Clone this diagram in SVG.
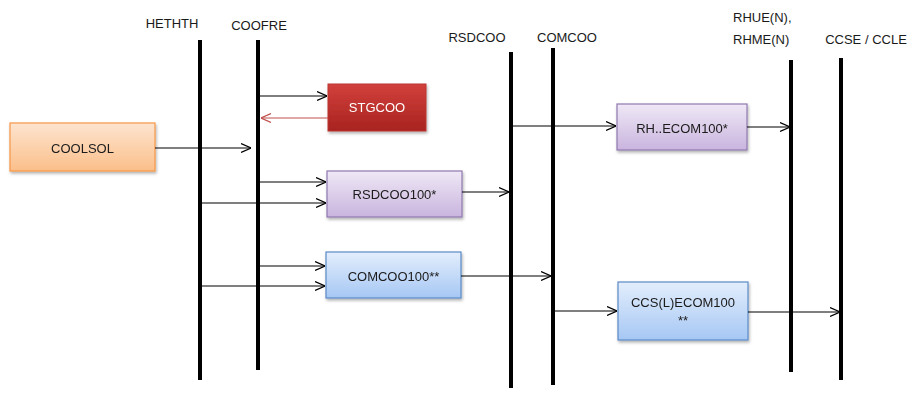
<svg xmlns="http://www.w3.org/2000/svg" width="911" height="394" viewBox="0 0 911 394">
<style>
text{font-family:"Liberation Sans","Open Sans",Arial,sans-serif;font-size:13px;fill:#1a1a1a}
.c{text-anchor:middle;dominant-baseline:central}
.life{stroke:#000;stroke-width:4}
.a{stroke:#000;stroke-width:1.2;fill:none;marker-end:url(#ah)}
.ar{stroke:#c0504d;stroke-width:1.2;fill:none;marker-end:url(#ahr)}
</style>
<defs>
<marker id="ah" viewBox="0 0 10 10" refX="10" refY="5" markerWidth="10" markerHeight="10" markerUnits="userSpaceOnUse" orient="auto"><path d="M0,0.5 L10,5 L0,9.5" fill="none" stroke="#000" stroke-width="1.2"/></marker>
<marker id="ahr" viewBox="0 0 10 10" refX="10" refY="5" markerWidth="10" markerHeight="10" markerUnits="userSpaceOnUse" orient="auto"><path d="M0,0.5 L10,5 L0,9.5" fill="none" stroke="#c0504d" stroke-width="1.2"/></marker>
<linearGradient id="gO" x1="0" y1="0" x2="0" y2="1"><stop offset="0" stop-color="#fde4cf"/><stop offset="1" stop-color="#fbbf8a"/></linearGradient>
<linearGradient id="gR" x1="0" y1="0" x2="0" y2="1"><stop offset="0" stop-color="#d2403c"/><stop offset="1" stop-color="#a8231f"/></linearGradient>
<linearGradient id="gP" x1="0" y1="0" x2="0" y2="1"><stop offset="0" stop-color="#efe8f6"/><stop offset="1" stop-color="#c9b4de"/></linearGradient>
<linearGradient id="gB" x1="0" y1="0" x2="0" y2="1"><stop offset="0" stop-color="#e3eefc"/><stop offset="1" stop-color="#a6c7f4"/></linearGradient>
<filter id="sh" x="-10%" y="-10%" width="130%" height="140%"><feDropShadow dx="1" dy="2" stdDeviation="1.5" flood-color="#000" flood-opacity="0.3"/></filter>
</defs>

<g id="lifelines">
<g id="HETHTH"><text x="172" y="28" text-anchor="middle">HETHTH</text><line class="life" x1="200" y1="40" x2="200" y2="380"/></g>
<g id="COOFRE"><text x="259" y="30" text-anchor="middle">COOFRE</text><line class="life" x1="258" y1="40" x2="258" y2="370"/></g>
<g id="RSDCOO"><text x="477" y="42" text-anchor="middle">RSDCOO</text><line class="life" x1="511" y1="52" x2="511" y2="388"/></g>
<g id="COMCOO"><text x="567" y="42" text-anchor="middle">COMCOO</text><line class="life" x1="553" y1="48" x2="553" y2="385"/></g>
<g id="RHUE"><text x="733" y="22">RHUE(N),</text><text x="733" y="44">RHME(N)</text><line class="life" x1="791" y1="60" x2="791" y2="372"/></g>
<g id="CCSE"><text x="866" y="44" text-anchor="middle">CCSE / CCLE</text><line class="life" x1="841" y1="58" x2="841" y2="380"/></g>
</g>

<g id="COOLSOL" filter="url(#sh)"><rect x="10" y="123" width="145" height="48" fill="url(#gO)" stroke="#f79646" stroke-width="1.2"/><text class="c" x="82.5" y="148">COOLSOL</text></g>
<g id="STGCOO" filter="url(#sh)"><rect x="328" y="84" width="98" height="47" fill="url(#gR)" stroke="#b93632" stroke-width="1"/><text class="c" x="377" y="107" style="fill:#fff">STGCOO</text></g>
<g id="RSDCOO100" filter="url(#sh)"><rect x="327" y="171" width="135" height="46" fill="url(#gP)" stroke="#8f78b0" stroke-width="1.2"/><text class="c" x="394.5" y="194">RSDCOO100*</text></g>
<g id="COMCOO100" filter="url(#sh)"><rect x="326" y="252" width="135" height="46" fill="url(#gB)" stroke="#5b8ac6" stroke-width="1.2"/><text class="c" x="393.5" y="276">COMCOO100**</text></g>
<g id="RHECOM100" filter="url(#sh)"><rect x="617" y="104" width="130" height="46" fill="url(#gP)" stroke="#8f78b0" stroke-width="1.2"/><text class="c" x="682" y="128">RH..ECOM100*</text></g>
<g id="CCSLECOM100" filter="url(#sh)"><rect x="618" y="282" width="130" height="58" fill="url(#gB)" stroke="#5b8ac6" stroke-width="1.2"/><text class="c" x="683" y="302">CCS(L)ECOM100</text><text class="c" x="683" y="320">**</text></g>

<g id="connectors">
<line class="a" x1="260" y1="96" x2="327" y2="96"/>
<line class="ar" x1="328" y1="118" x2="261" y2="118"/>
<line class="a" x1="155" y1="148" x2="251" y2="148"/>
<line class="a" x1="260" y1="182" x2="326" y2="182"/>
<line class="a" x1="202" y1="203" x2="326" y2="203"/>
<line class="a" x1="462" y1="192" x2="509" y2="192"/>
<line class="a" x1="260" y1="266" x2="325" y2="266"/>
<line class="a" x1="202" y1="286" x2="325" y2="286"/>
<line class="a" x1="461" y1="276" x2="551" y2="276"/>
<line class="a" x1="511" y1="126" x2="616" y2="126"/>
<line class="a" x1="747" y1="127" x2="790" y2="127"/>
<line class="a" x1="555" y1="311" x2="617" y2="311"/>
<line class="a" x1="748" y1="312" x2="840" y2="312"/>
</g>
</svg>
